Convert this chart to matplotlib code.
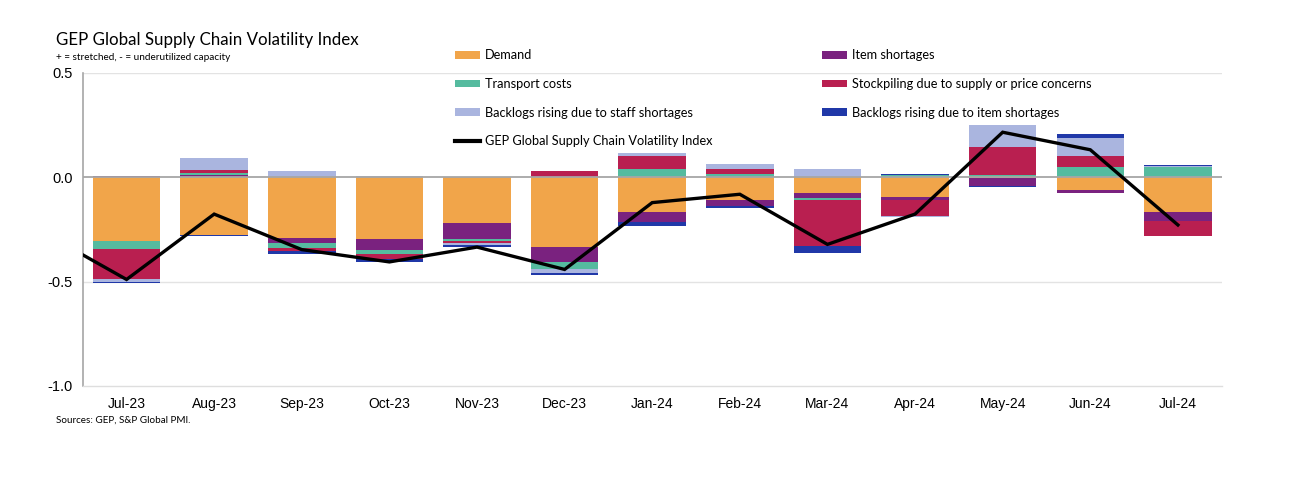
import numpy as np
import matplotlib
matplotlib.use("Agg")
from matplotlib import pyplot as plt
from matplotlib.patches import Patch
from matplotlib.lines import Line2D

# months shown on the axis
months = ["Jul-23", "Aug-23", "Sep-23", "Oct-23", "Nov-23", "Dec-23", "Jan-24",
          "Feb-24", "Mar-24", "Apr-24", "May-24", "Jun-24", "Jul-24"]

# contributions
demand = [-0.308, -0.276, -0.290, -0.298, -0.219, -0.333, -0.167, -0.110, -0.078, -0.093, -0.003, -0.060, -0.169]
item_shortages = [0.005, 0.010, -0.027, -0.050, -0.076, -0.071, -0.047, -0.030, -0.023, -0.017, -0.040, -0.014, -0.041]
transport = [-0.035, 0.008, -0.024, -0.019, -0.013, -0.038, 0.041, 0.016, -0.008, 0.008, 0.009, 0.047, 0.047]
stockpiling = [-0.147, 0.017, -0.011, -0.025, -0.006, 0.027, 0.058, 0.021, -0.223, -0.074, 0.133, 0.055, -0.073]
staff_backlogs = [-0.013, 0.058, 0.027, 0.004, -0.009, -0.016, 0.016, 0.027, 0.041, -0.006, 0.110, 0.087, 0.008]
item_backlogs = [-0.005, -0.005, -0.017, -0.016, -0.011, -0.011, -0.019, -0.006, -0.030, 0.005, -0.005, 0.016, 0.005]

# index line, first value is Jun-23 (only the clipped tail shows)
index_months = ["Jun-23"] + months
index_vals = [-0.254, -0.490, -0.177, -0.347, -0.406, -0.335, -0.442, -0.122, -0.082, -0.322, -0.177, 0.215, 0.131, -0.229]

series = [
    ("Demand", demand, "#F1A54A"),
    ("Item shortages", item_shortages, "#7A227F"),
    ("Transport costs", transport, "#55BB9F"),
    ("Stockpiling due to supply or price concerns", stockpiling, "#B91F50"),
    ("Backlogs rising due to staff shortages", staff_backlogs, "#AAB5DF"),
    ("Backlogs rising due to item shortages", item_backlogs, "#2038A8"),
]

fig = plt.figure(figsize=(12.95, 4.86), dpi=100)
ax = fig.add_axes([0.0639, 0.2058, 0.8795, 0.6446])

x = np.arange(len(months))
pos = np.zeros(len(months))
neg = np.zeros(len(months))
handles = {}
for name, vals, col in series:
    v = np.array(vals)
    bottom = np.where(v >= 0, pos, neg)
    ax.bar(x, v, width=0.77, bottom=bottom, color=col, edgecolor="none", zorder=2)
    pos = pos + np.where(v >= 0, v, 0)
    neg = neg + np.where(v < 0, v, 0)
    handles[name] = Patch(facecolor=col, edgecolor="none")

xi = np.arange(-1, len(months))
ax.plot(xi, index_vals, color="black", lw=2.4, zorder=3, solid_joinstyle="miter")

ax.set_xlim(-0.5, len(months) - 0.5)
ax.set_ylim(-1.0, 0.5)
ax.set_yticks([0.5, 0.0, -0.5, -1.0])
ax.set_yticklabels(["0.5", "0.0", "-0.5", "-1.0"], fontfamily="Liberation Sans", fontsize=10.5)
ax.set_xticks(x)
ax.set_xticklabels(months, fontfamily="Liberation Sans", fontsize=10)
ax.tick_params(length=0, pad=8)
ax.tick_params(axis="y", pad=7)

for yv in [0.5, -0.5]:
    ax.axhline(yv, color="#e3e3e3", lw=1, zorder=1)
ax.axhline(0, color="#a6a6a6", lw=1.3, zorder=2.5)
for s in ["top", "right"]:
    ax.spines[s].set_visible(False)
ax.spines["left"].set_color("#a6a6a6")
ax.spines["left"].set_linewidth(1.2)
ax.spines["bottom"].set_color("#dedede")
ax.spines["bottom"].set_linewidth(1)

# legend: two columns placed by hand
line_h = Line2D([0], [0], color="black", lw=3)
col1 = ["Demand", "Transport costs", "Backlogs rising due to staff shortages"]
col2 = ["Item shortages", "Stockpiling due to supply or price concerns",
        "Backlogs rising due to item shortages"]
leg_kw = dict(frameon=False, handlelength=1.9, handleheight=0.55,
              handletextpad=0.4, labelspacing=1.3, borderpad=0,
              prop={"family": "Lato", "size": 9.2})
leg1 = fig.legend([handles[n] for n in col1] + [line_h],
                  col1 + ["GEP Global Supply Chain Volatility Index"],
                  loc="upper left", bbox_to_anchor=(449 / 1295, 1 - 43 / 486), **leg_kw)
leg2 = fig.legend([handles[n] for n in col2], col2,
                  loc="upper left", bbox_to_anchor=(816 / 1295, 1 - 43 / 486), **leg_kw)

fig.text(56 / 1295, 1 - 40 / 486, "GEP Global Supply Chain Volatility Index",
         fontfamily="Lato", fontsize=12.15, va="center", ha="left")
fig.text(56 / 1295, 1 - 57 / 486, "+ = stretched, - = underutilized capacity",
         fontfamily="Lato", fontsize=7.2, va="center", ha="left")
fig.text(56 / 1295, 1 - 420 / 486, "Sources: GEP, S&P Global PMI.",
         fontfamily="Lato", fontsize=7.1, va="center", ha="left")

fig.savefig("out.png", dpi=100, facecolor="white")
